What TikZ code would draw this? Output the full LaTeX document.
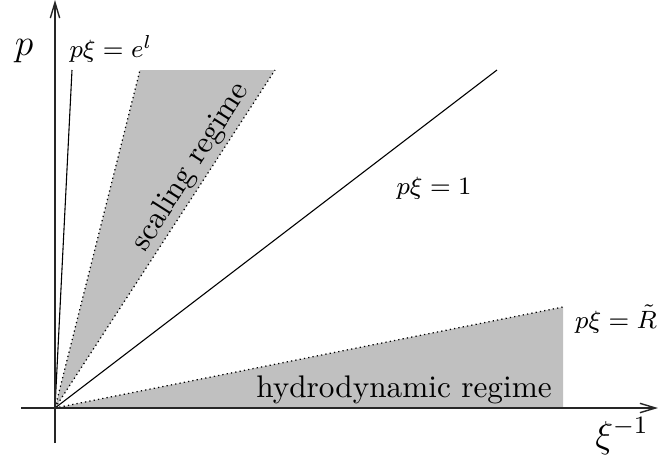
\documentclass[tikz,border=0pt]{standalone}
\usetikzlibrary{arrows.meta}
\definecolor{regiongray}{RGB}{192,192,192}
\begin{document}
\begin{tikzpicture}[x=0.32pt,y=-0.32pt,
  axis/.style={line width=0.45pt, draw=black!85, -{Straight Barb[length=5pt,width=3pt]}},
  boundline/.style={line width=0.35pt},
  regionfill/.style={fill=regiongray, draw=none},
  dotedge/.style={densely dotted, line width=0.4pt},
  lab/.style={inner sep=0pt, font=\fontsize{8.5}{10}\selectfont},
  biglab/.style={inner sep=0pt, font=\large},
  regionlab/.style={inner sep=0pt, font=\normalsize}]
\useasboundingbox (0,0) rectangle (658,464);
% key points
\coordinate (O) at (55,408);
\coordinate (ytop) at (55,0);
\coordinate (ybot) at (55,443);
\coordinate (xl) at (21,408);
\coordinate (xr) at (658,408);
\coordinate (el) at (72,70);
\coordinate (sL) at (140,70);
\coordinate (sR) at (275,70);
\coordinate (one) at (497,70);
\coordinate (hB) at (563,408);
\coordinate (hT) at (563,307);
% shaded regions
\fill[regionfill] (O) -- (sL) -- (sR) -- cycle;
\fill[regionfill] (O) -- (hB) -- (hT) -- cycle;
\draw[dotedge] (O) -- (sL);
\draw[dotedge] (O) -- (sR);
\draw[dotedge] (O) -- (hT);
\draw[dotedge] (O) -- (hB);
% boundary lines
\draw[boundline] (O) -- (el);
\draw[boundline] (O) -- (one);
% axes
\draw[axis] (ybot) -- (ytop);
\draw[axis] (xl) -- (xr);
% labels
\node[biglab] (plab) at (24,51) {$p$};
\node[biglab] (xilab) at (622,436) {$\xi^{-1}$};
\node[lab] (ellab) at (111,49) {$p\xi = e^{l}$};
\node[lab] (onelab) at (434,188) {$p\xi = 1$};
\node[lab] (Rlab) at (616,319) {$p\xi = \tilde{R}$};
\node[regionlab] (hydro) at (404,390) {hydrodynamic regime};
\node[regionlab, rotate=57.5] (scal) at (191,167) {scaling regime};
\end{tikzpicture}
\end{document}
